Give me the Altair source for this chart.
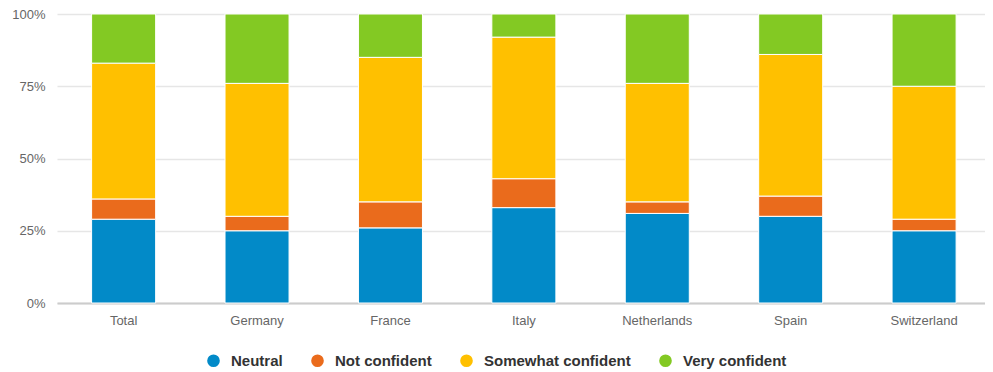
import altair as alt
import pandas as pd

countries = ["Total", "Germany", "France", "Italy", "Netherlands", "Spain", "Switzerland"]
series = ["Neutral", "Not confident", "Somewhat confident", "Very confident"]
neutral = [29, 25, 26, 33, 31, 30, 25]
not_confident = [7, 5, 9, 10, 4, 7, 4]
somewhat = [47, 46, 50, 49, 41, 49, 46]
very = [17, 24, 15, 8, 24, 14, 25]
colors = ["#028AC8", "#EA6B1C", "#FFC000", "#83C923"]

rows = []
for si, (name, vals) in enumerate(zip(series, [neutral, not_confident, somewhat, very])):
    for c, v in zip(countries, vals):
        rows.append({"country": c, "series": name, "value": v, "ord": si})
df = pd.DataFrame(rows)

font = "Liberation Sans"

chart = alt.Chart(df).mark_bar(stroke="white", strokeWidth=1).encode(
    x=alt.X("country:N", sort=countries, title=None,
            scale=alt.Scale(paddingInner=0.52, paddingOuter=0.238, align=0.545),
            axis=alt.Axis(labelAngle=0, ticks=False, domainColor="#cccccc", domainWidth=2,
                          labelColor="#666666", labelFontSize=13, labelFont=font, labelPadding=11)),
    y=alt.Y("value:Q", stack="normalize", title=None,
            scale=alt.Scale(domain=[0, 1]),
            axis=alt.Axis(format=".0%", values=[0, 0.25, 0.5, 0.75, 1], ticks=False, domain=False,
                          gridColor="#e6e6e6", gridWidth=1.5, labelColor="#666666", labelFontSize=13,
                          labelFont=font, labelPadding=12)),
    color=alt.Color("series:N", sort=series, scale=alt.Scale(domain=series, range=colors),
                    legend=alt.Legend(title=None, orient="none", direction="horizontal",
                                      legendX=149, legendY=339, symbolType="circle", symbolSize=160,
                                      symbolStrokeWidth=0, labelFontSize=15, labelFontWeight="bold",
                                      labelColor="#333333", labelFont=font, columnPadding=27,
                                      labelOffset=10)),
    order=alt.Order("ord:Q", sort="ascending"),
).properties(
    width=928, height=289, autosize="none",
    padding={"left": 49, "top": 6, "right": 0, "bottom": 69},
).configure_view(stroke=None)

chart.save("out.html", embed_options={"renderer": "svg", "actions": False})
